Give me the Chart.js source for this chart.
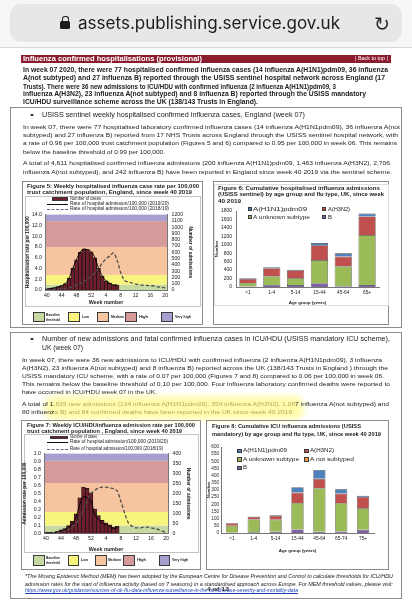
<!DOCTYPE html>
<html lang="en">
<head>
<meta charset="utf-8">
<title>Influenza confirmed hospitalisations</title>
<script src="https://cdn.jsdelivr.net/npm/chart.js@4.4.1/dist/chart.umd.min.js"></script>
<style>
  html, body { margin: 0; padding: 0; background: #fff; }
  body { position: relative; width: 412px; height: 600px; overflow: hidden;
         font-family: "Liberation Sans", Arial, sans-serif; color: #1b1b1b; }
  .t { position: absolute; white-space: nowrap; line-height: 1; transform-origin: 0 50%; }
  .b { font-weight: bold; }
  .i { font-style: italic; }
  .f63 { font-size: 6.3px; }
  .f62 { font-size: 6.2px; }
  .f66 { font-size: 6.6px; }
  .f53 { font-size: 5.3px; }
  .f45 { font-size: 4.5px; }
  .f40 { font-size: 4px; }
  .f50 { font-size: 5px; }
  .box { position: absolute; box-sizing: border-box; border: 1px solid #8c8c8c; }
  .inner { position: absolute; box-sizing: border-box; border: 1px solid #c4c4c4; }
  canvas { position: absolute; }
  .sw { position: absolute; box-sizing: border-box; border: 1px solid #3a3a3a; }
  .hl { color: #b2ab5c; }
</style>
</head>
<body>

<!-- browser chrome -->
<div style="position:absolute;left:0;top:0;width:412px;height:47px;background:#f7f7f7;border-bottom:1px solid #d8d8d8"></div>
<div style="position:absolute;left:10px;top:4px;width:392px;height:38px;border-radius:11px;background:#e7e7e9"></div>
<div style="position:absolute;left:62px;top:16px;width:5px;height:6px;border:1.6px solid #1c1c1c;border-bottom:none;border-radius:3px 3px 0 0"></div>
<div style="position:absolute;left:60px;top:21px;width:10px;height:8px;border-radius:1.5px;background:#1c1c1c"></div>
<div class="t" style="font-family:Inter,'Noto Sans',sans-serif;font-size:17px;color:#1c1c1c" data-p="78,23.5,262">assets.publishing.service.gov.uk</div>
<div class="t" style="font-family:'DejaVu Sans',sans-serif;font-size:20px;color:#2a2a2a" data-p="374,24,16">↻</div>

<!-- section banner -->
<div style="position:absolute;left:21px;top:55px;width:370px;height:7.5px;background:#8a1c2e"></div>
<div class="t b f63" style="color:#fff" data-p="23,58.6,179">Influenza confirmed hospitalisations (provisional)</div>
<div class="t f50" style="color:#fff" data-p="355,58.8,33">| Back to top |</div>

<!-- summary -->
<div class="t b f63" data-p="23,70,365">In week 07 2020, there were 77 hospitalised confirmed influenza cases (14 influenza A(H1N1)pdm09, 36 influenza</div>
<div class="t b f63" data-p="23,78.3,362">A(not subtyped) and 27 influenza B) reported through the USISS sentinel hospital network across England (17</div>
<div class="t b f63" data-p="23,86.7,313">Trusts). There were 36 new admissions to ICU/HDU with confirmed influenza (2 influenza A(H1N1)pdm09, 3</div>
<div class="t b f63" data-p="23,94.3,343">influenza A(H3N2), 23 influenza A(not subtyped) and 8 influenza B) reported through the USISS mandatory</div>
<div class="t b f63" data-p="23,101.7,235">ICU/HDU surveillance scheme across the UK (138/143 Trusts in England).</div>

<!-- box 1 -->
<div class="box" style="left:10px;top:107px;width:392px;height:221px"></div>
<div class="t f66" data-p="30,115,4">•</div>
<div class="t f66" data-p="42,115,263">USISS sentinel weekly hospitalised confirmed influenza cases, England (week 07)</div>
<div class="t f62" data-p="23,126.7,377">In week 07, there were 77 hospitalised laboratory confirmed influenza cases (14 influenza A(H1N1pdm09), 36 influenza A(not</div>
<div class="t f62" data-p="23,135,375">subtyped) and 27 influenza B) reported from 17 NHS Trusts across England through the USISS sentinel hospital network, with</div>
<div class="t f62" data-p="23,143.3,374">a rate of 0.96 per 100,000 trust catchment population (Figures 5 and 6) compared to 0.95 per 100,000 in week 06. This remains</div>
<div class="t f62" data-p="23,151.7,142">below the baseline threshold of 0.99 per 100,000.</div>
<div class="t f62" data-p="23,163.3,367">A total of 4,611 hospitalised confirmed influenza admissions (200 influenza A(H1N1)pdm09, 1,463 influenza A(H3N2), 2,706</div>
<div class="t f62" data-p="23,171.7,369">influenza A(not subtyped), and 242 influenza B) have been reported in England since week 40 2019 via the sentinel scheme.</div>

<!-- figure 5 -->
<div class="box" style="left:22px;top:181px;width:181px;height:144px"></div>
<div class="inner" style="left:25px;top:196px;width:176px;height:111px"></div>
<div class="t b f53" data-p="27,186,172">Figure 5: Weekly hospitalised influenza case rate per 100,000</div>
<div class="t b f53" data-p="27,192.5,165">trust catchment population, England, since week 40 2019</div>
<div class="sw" style="left:52px;top:197px;width:16px;height:3.5px;background:#6e1e2c;border-width:0.5px"></div>
<div class="t f45" data-p="70,199,31">Number of cases</div>
<div style="position:absolute;left:47px;top:203.6px;width:21px;height:1.3px;background:#111"></div>
<div class="t f45" data-p="70,204.3,99">Rate of hospital admission/100,000 (2019/20)</div>
<div style="position:absolute;left:47px;top:208.6px;width:21px;border-top:1.4px dashed #6a6a8a"></div>
<div class="t f45" data-p="70,209.3,99">Rate of hospital admission/100,000 (2018/19)</div>
<canvas id="fig5" width="177" height="99" style="left:23px;top:207px"></canvas>
<div class="sw" style="left:33px;top:312px;width:12px;height:10px;background:#c6d9a1"></div>
<div class="t b f40" data-p="46,315,14">Baseline</div>
<div class="t b f40" data-p="46,319.5,14">threshold</div>
<div class="sw" style="left:68px;top:312px;width:12px;height:10px;background:#f8f57f"></div>
<div class="t b f40" data-p="82,317,7">Low</div>
<div class="sw" style="left:97px;top:312px;width:12px;height:10px;background:#f6c49e"></div>
<div class="t b f40" data-p="111,317,13">Medium</div>
<div class="sw" style="left:125px;top:312px;width:12px;height:10px;background:#d69a9a"></div>
<div class="t b f40" data-p="139,317,9">High</div>
<div class="sw" style="left:161px;top:312px;width:12px;height:10px;background:#a79fcf"></div>
<div class="t b f40" data-p="175,317,16">Very high</div>

<!-- figure 6 -->
<div class="box" style="left:213px;top:181px;width:176px;height:144px"></div>
<div class="inner" style="left:214px;top:184px;width:175px;height:122px;border-color:#dcdcdc"></div>
<div class="t b f53" data-p="218,188,162">Figure 6: Cumulative hospitalised influenza admissions</div>
<div class="t b f53" data-p="218,194.5,166">(USISS sentinel) by age group and flu type, UK, since week</div>
<div class="t b f53" data-p="218,201,23">40 2019</div>
<canvas id="fig6" width="176" height="101" style="left:213px;top:204px"></canvas>
<div class="sw" style="left:248px;top:207px;width:4px;height:4px;background:#4f81bd;border-width:0.5px"></div>
<div class="t f53" data-p="253,209.3,54">A(H1N1)pdm09</div>
<div class="sw" style="left:322px;top:207px;width:4px;height:4px;background:#c0504d;border-width:0.5px"></div>
<div class="t f53" data-p="328,209.3,22">A(H3N2)</div>
<div class="sw" style="left:248px;top:215px;width:4px;height:4px;background:#9bbb59;border-width:0.5px"></div>
<div class="t f53" data-p="253,217.3,57">A unknown subtype</div>
<div class="sw" style="left:322px;top:215px;width:4px;height:4px;background:#8064a2;border-width:0.5px"></div>
<div class="t f53" data-p="328,217.3,4">B</div>

<!-- box 2 -->
<div class="box" style="left:10px;top:332px;width:392px;height:267px"></div>
<div class="t f66" data-p="30,339.3,4">•</div>
<div class="t f66" data-p="42,339.3,348">Number of new admissions and fatal confirmed influenza cases in ICU/HDU (USISS mandatory ICU scheme),</div>
<div class="t f66" data-p="42,348,41">UK (week 07)</div>
<div class="t f62" data-p="22,360,360">In week 07, there were 36 new admissions to ICU/HDU with confirmed influenza (2 influenza A(H1N1pdm09), 3 influenza</div>
<div class="t f62" data-p="22,368,366">A(H3N2), 23 influenza A(not subtyped) and 8 influenza B) reported across the UK (138/143 Trusts in England ) through the</div>
<div class="t f62" data-p="22,376,362">USISS mandatory ICU scheme, with a rate of 0.07 per 100,000 (Figures 7 and 8) compared to 0.06 per 100,000 in week 06.</div>
<div class="t f62" data-p="22,384.3,368">This remains below the baseline threshold of 0.10 per 100,000. Four influenza laboratory confirmed deaths were reported to</div>
<div class="t f62" data-p="22,392.3,135">have occurred in ICU/HDU week 07 in the UK.</div>
<div style="position:absolute;left:44px;top:396px;width:260px;height:24px;border-radius:10px;background:rgba(255,250,90,0.5);filter:blur(3px)"></div>
<div class="t f62" data-p="22,404.3,367">A total of 1<span class="hl">,635 new admissions (134 influenza A(H1N1pdm09), 354 influenza A(H3N2), 1,06</span>7 influenza A(not subtyped) and</div>
<div class="t f62" data-p="22,412.3,272">80 influenz<span class="hl">a B) and 84 confirmed deaths have been reported in the UK since week 40 2019.</span></div>

<!-- figure 7 -->
<div class="box" style="left:21px;top:420px;width:180px;height:150px"></div>
<div class="inner" style="left:24px;top:434px;width:175px;height:119px"></div>
<div class="t b f53" data-p="27,425,168">Figure 7: Weekly ICU/HDUinfluenza admission rate per 100,000</div>
<div class="t b f53" data-p="27,431.7,155">trust catchment population , England, since week 40 2019</div>
<div class="sw" style="left:50px;top:435.5px;width:18px;height:3.5px;background:#6e1e2c;border-width:0.5px"></div>
<div class="t f45" data-p="70,437.3,27">Number of cases</div>
<div style="position:absolute;left:47px;top:442px;width:21px;height:1.3px;background:#111"></div>
<div class="t f45" data-p="70,442.7,98">Rate of hospital admission/100,000 (2019/20)</div>
<div style="position:absolute;left:47px;top:448.6px;width:21px;border-top:1.4px dashed #6a6a8a"></div>
<div class="t f45" data-p="70,449.3,93">Rate of hospital admission/100,000 (2018/19)</div>
<canvas id="fig7" width="178" height="107" style="left:21px;top:446px"></canvas>
<div class="sw" style="left:33px;top:555px;width:12px;height:10.5px;background:#c6d9a1"></div>
<div class="t b f40" data-p="46,558,14">Baseline</div>
<div class="t b f40" data-p="46,562.5,14">threshold</div>
<div class="sw" style="left:68px;top:555px;width:11px;height:10.5px;background:#f8f57f"></div>
<div class="t b f40" data-p="81,560,7">Low</div>
<div class="sw" style="left:95px;top:555px;width:12px;height:10.5px;background:#f6c49e"></div>
<div class="t b f40" data-p="108,560,13">Medium</div>
<div class="sw" style="left:123px;top:555px;width:12px;height:10.5px;background:#d69a9a"></div>
<div class="t b f40" data-p="137,560,9">High</div>
<div class="sw" style="left:159px;top:555px;width:11px;height:10.5px;background:#a79fcf"></div>
<div class="t b f40" data-p="172,560,16">Very high</div>

<!-- figure 8 -->
<div class="box" style="left:206px;top:420px;width:183px;height:150px"></div>
<div class="t b f53" data-p="212,426.7,149">Figure 8: Cumulative ICU influenza admissions (USISS</div>
<div class="t b f53" data-p="212,434,169">mandatory) by age group and flu type, UK, since week 40 2019</div>
<canvas id="fig8" width="182" height="111" style="left:206px;top:442px"></canvas>
<div class="sw" style="left:237px;top:448.5px;width:4.5px;height:4.5px;background:#4f81bd;border-width:0.5px"></div>
<div class="t f53" data-p="243,450.7,44">A(H1N1)pdm09</div>
<div class="sw" style="left:304px;top:448.5px;width:4.5px;height:4.5px;background:#c0504d;border-width:0.5px"></div>
<div class="t f53" data-p="310,450.7,24">A(H3N2)</div>
<div class="sw" style="left:237px;top:457px;width:4.5px;height:4.5px;background:#9bbb59;border-width:0.5px"></div>
<div class="t f53" data-p="243,459.2,56">A unknown subtype</div>
<div class="sw" style="left:304px;top:457px;width:4.5px;height:4.5px;background:#f79646;border-width:0.5px"></div>
<div class="t f53" data-p="310,459.2,44">A not subtyped</div>
<div class="sw" style="left:237px;top:465.5px;width:4.5px;height:4.5px;background:#8064a2;border-width:0.5px"></div>
<div class="t f53" data-p="243,467.7,4">B</div>

<!-- footnote -->
<div class="t i f50" data-p="25,576.7,368">*The Moving Epidemic Method (MEM) has been adopted by the European Centre for Disease Prevention and Control to calculate thresholds for ICU/HDU</div>
<div class="t i f50" data-p="25,584,368">admission rates for the start of influenza activity (based on 7 seasons) in a standardised approach across Europe. For MEM threshold values, please visit:</div>
<div class="t i f50" style="color:#1f3fb5;text-decoration:underline" data-p="25,590.5,273">https://www.gov.uk/guidance/sources-of-uk-flu-data-influenza-surveillance-in-the-uk#disease-severity-and-mortality-data</div>
<div class="t b f50" style="color:#333" data-p="207,589.5,22">4 of 13</div>

<script>
// weeks 40 2019 to 20 2020
const weeks = ['40', '41', '42', '43', '44', '45', '46', '47', '48', '49', '50', '51', '52',
               '1', '2', '3', '4', '5', '6', '7', '8', '9', '10', '11', '12', '13', '14', '15', '16', '17', '18', '19', '20'];

// Figure 5: USISS sentinel hospitalisations
const fig5Cases = [17, 26, 34, 51, 69, 103, 189, 343, 480, 600, 651, 643, 609, 514, 343, 223, 146, 111, 82, 77];
const fig5Rate1920 = [0.2, 0.3, 0.4, 0.6, 0.8, 1.2, 2.2, 4.0, 5.6, 7.0, 7.6, 7.5, 7.1, 6.0, 4.0, 2.6, 1.7, 1.3, 0.95, 0.96];
const fig5Rate1819 = [0.1, 0.1, 0.15, 0.2, 0.2, 0.3, 0.4, 0.6, 0.9, 1.2, 1.6, 2.0, 2.5, 3.2, 4.0, 5.0, 5.8, 6.3, 6.9, 5.5,
                      3.2, 1.8, 1.5, 1.3, 1.1, 1.0, 0.9, 0.85, 0.8, 0.75, 0.6, 0.5, 0.4];
const fig5Thresholds = [0.99, 2.8, 8.0, 12.8];

// Figure 7: USISS mandatory ICU/HDU admissions
const fig7Cases = [4, 5, 7, 10, 18, 25, 40, 62, 98, 178, 232, 226, 204, 122, 90, 66, 54, 44, 32, 36];
const fig7Rate1920 = [0.01, 0.01, 0.01, 0.02, 0.03, 0.05, 0.08, 0.12, 0.2, 0.36, 0.46, 0.45, 0.41, 0.24, 0.18, 0.13, 0.11, 0.09, 0.06, 0.07];
const fig7Rate1819 = [0.0, 0.0, 0.01, 0.01, 0.02, 0.03, 0.05, 0.08, 0.12, 0.2, 0.3, 0.42, 0.5, 0.54, 0.57, 0.58, 0.58, 0.57, 0.56, 0.53,
                      0.4, 0.25, 0.13, 0.09, 0.07, 0.07, 0.08, 0.08, 0.07, 0.06, 0.05, 0.03, 0.01];
const fig7Thresholds = [0.1, 0.27, 0.63, 0.91];

// MEM intensity bands: baseline, low, medium, high, very high
const bandColors = ['#c6d9a1', '#f8f57f', '#f6c49e', '#d69a9a', '#a79fcf'];

// Figure 6: cumulative sentinel admissions by age group
const fig6Ages = ['<1', '1-4', '5-14', '15-44', '45-64', '65+'];
const fig6B = [10, 50, 45, 90, 20, 45];
const fig6Unknown = [85, 205, 160, 548, 473, 1185];
const fig6H3N2 = [95, 190, 190, 349, 228, 440];
const fig6H1N1 = [15, 22, 15, 53, 76, 68];

// Figure 8: cumulative ICU admissions by age group
const fig8Ages = ['<1', '1-4', '5-14', '15-44', '45-64', '65-74', '75+'];
const fig8B = [2, 5, 8, 25, 8, 10, 22];
const fig8Unknown = [48, 90, 85, 185, 305, 200, 150];
const fig8NotSub = [0, 0, 0, 0, 0, 0, 0];
const fig8H3N2 = [18, 18, 27, 72, 65, 65, 80];
const fig8H1N1 = [2, 2, 5, 38, 62, 30, 8];

// place text lines: x, centre y, target width
document.querySelectorAll('.t').forEach(function(el) {
    const p = el.dataset.p.split(',').map(Number);
    el.style.left = p[0] + 'px';
    el.style.top = (p[1] - el.offsetHeight / 2) + 'px';
    const w = el.getBoundingClientRect().width;
    if (p[2] && w) el.style.transform = 'scaleX(' + (p[2] / w) + ')';
});

Chart.defaults.font.family = '"Liberation Sans", Arial, sans-serif';
Chart.defaults.color = '#222';

// coloured MEM bands behind the week charts
const bandsPlugin = {
    id: 'bands',
    beforeDraw(chart, args, opts) {
        if (!opts.edges) return;
        const a = chart.chartArea;
        const y = chart.scales.y;
        const edges = [y.min].concat(opts.edges, [y.max]);
        const ctx = chart.ctx;
        ctx.save();
        for (let i = 0; i < edges.length - 1; i++) {
            const top = y.getPixelForValue(edges[i + 1]);
            const bottom = y.getPixelForValue(edges[i]);
            ctx.fillStyle = opts.colors[i];
            ctx.fillRect(a.left, top, a.right - a.left, bottom - top);
        }
        ctx.restore();
    }
};

const noGrid = { display: false, drawTicks: false };

function weekChart(id, o) {
    return new Chart(document.getElementById(id), {
        type: 'bar',
        data: {
            labels: weeks,
            datasets: [
                { type: 'line', label: 'Rate of hospital admission/100,000 (2018/19)', data: o.prev, yAxisID: 'y',
                  borderColor: '#4e4e4e', borderWidth: 1.3, borderDash: [3.5, 2], pointRadius: 0,
                  cubicInterpolationMode: 'monotone', order: 0 },
                { type: 'line', label: 'Rate of hospital admission/100,000 (2019/20)', data: o.now, yAxisID: 'y',
                  borderColor: '#000', borderWidth: 0.9, pointRadius: 0, cubicInterpolationMode: 'monotone', order: 0 },
                { label: 'Number of cases', data: o.cases, yAxisID: 'y2', backgroundColor: '#6e1e2c',
                  borderColor: '#111', borderWidth: 0.7, barPercentage: 1, categoryPercentage: 1, order: 1 }
            ]
        },
        options: {
            responsive: false,
            animation: false,
            layout: { padding: { top: o.padTop, left: 0, right: 0, bottom: 0 } },
            plugins: {
                legend: { display: false },
                tooltip: { enabled: false },
                bands: { edges: o.edges, colors: bandColors }
            },
            scales: {
                x: {
                    grid: noGrid,
                    border: { color: '#777' },
                    ticks: { autoSkip: false, maxRotation: 0, minRotation: 0, padding: 2, font: { size: 5.2 },
                             callback: function(v, i) { return i % 4 === 0 ? this.getLabelForValue(v) : ''; } },
                    title: { display: true, text: 'Week number', font: { size: 5.3, weight: 'bold' }, padding: 0 },
                    afterFit: function(s) { s.height = o.xH; }
                },
                y: {
                    position: 'left', min: 0, max: o.yMax,
                    grid: noGrid,
                    border: { color: '#777' },
                    ticks: { stepSize: o.yStep, autoSkip: false, padding: 3, font: { size: 5.2 }, callback: v => v.toFixed(1) },
                    title: { display: true, text: o.yTitle, font: { size: 4.8, weight: 'bold' }, padding: { top: o.yTitlePad, bottom: 0 } },
                    afterFit: function(s) { s.width = o.yW; }
                },
                y2: {
                    position: 'right', min: 0, max: o.y2Max,
                    grid: noGrid,
                    border: { color: '#777' },
                    ticks: { stepSize: o.y2Step, autoSkip: false, padding: 4.5, font: { size: 5.2 }, callback: v => String(v) },
                    title: { display: true, text: 'Number of admissions', font: { size: 4.8, weight: 'bold' }, padding: { top: o.y2TitlePad, bottom: 0 } },
                    afterFit: function(s) { s.width = o.y2W; }
                }
            }
        },
        plugins: [bandsPlugin]
    });
}

function ageChart(id, o) {
    return new Chart(document.getElementById(id), {
        type: 'bar',
        data: {
            labels: o.labels,
            datasets: o.series.map(s => ({
                label: s.name, data: s.data, backgroundColor: s.color,
                borderColor: '#3a3a3a', borderWidth: 0.6, barPercentage: o.barPct, categoryPercentage: 1
            }))
        },
        options: {
            responsive: false,
            animation: false,
            layout: { padding: { top: o.padTop, right: o.padRight, left: 0, bottom: 0 } },
            plugins: { legend: { display: false }, tooltip: { enabled: false } },
            scales: {
                x: {
                    stacked: true,
                    grid: noGrid,
                    border: { color: '#777' },
                    ticks: { padding: 3, autoSkip: false, maxRotation: 0, font: { size: 4.8 } },
                    title: { display: true, text: 'Age group (years)', font: { size: 4.4, weight: 'bold' }, padding: 0 },
                    afterFit: function(s) { s.height = o.xH; }
                },
                y: {
                    stacked: true, min: 0, max: o.yMax,
                    grid: noGrid,
                    border: { color: '#777' },
                    ticks: { stepSize: o.yStep, autoSkip: false, padding: o.tickPad, font: { size: o.tickSize }, callback: v => String(v) },
                    title: { display: true, text: 'Number', font: { size: 4.4, weight: 'bold' }, padding: { top: o.titlePad, bottom: 0 } },
                    afterFit: function(s) { s.width = o.yW; }
                }
            }
        }
    });
}

weekChart('fig5', {
    cases: fig5Cases, now: fig5Rate1920, prev: fig5Rate1819, edges: fig5Thresholds,
    yMax: 14, yStep: 2, y2Max: 1200, y2Step: 100, yTitle: 'Hospitalisation rate per 100,000',
    yW: 22, y2W: 33, padTop: 4.5, xH: 16, yTitlePad: 1.5, y2TitlePad: 7
});

weekChart('fig7', {
    cases: fig7Cases, now: fig7Rate1920, prev: fig7Rate1819, edges: fig7Thresholds,
    yMax: 1.0, yStep: 0.1, y2Max: 400, y2Step: 50, yTitle: 'Admission rate per 100,000',
    yW: 23, y2W: 31, padTop: 5, xH: 19.5, yTitlePad: 1, y2TitlePad: 8
});

ageChart('fig6', {
    labels: fig6Ages, yMax: 1800, yStep: 200, yW: 23, padTop: 4, padRight: 10, xH: 18, barPct: 0.72,
    tickPad: 4, tickSize: 5, titlePad: 1.3,
    series: [
        { name: 'B', data: fig6B, color: '#8064a2' },
        { name: 'A unknown subtype', data: fig6Unknown, color: '#9bbb59' },
        { name: 'A(H3N2)', data: fig6H3N2, color: '#c0504d' },
        { name: 'A(H1N1)pdm09', data: fig6H1N1, color: '#4f81bd' }
    ]
});

ageChart('fig8', {
    labels: fig8Ages, yMax: 600, yStep: 50, yW: 15, padTop: 5, padRight: 14, xH: 20, barPct: 0.56,
    tickPad: 2, tickSize: 4.6, titlePad: 0,
    series: [
        { name: 'B', data: fig8B, color: '#8064a2' },
        { name: 'A unknown subtype', data: fig8Unknown, color: '#9bbb59' },
        { name: 'A not subtyped', data: fig8NotSub, color: '#f79646' },
        { name: 'A(H3N2)', data: fig8H3N2, color: '#c0504d' },
        { name: 'A(H1N1)pdm09', data: fig8H1N1, color: '#4f81bd' }
    ]
});
</script>
</body>
</html>
